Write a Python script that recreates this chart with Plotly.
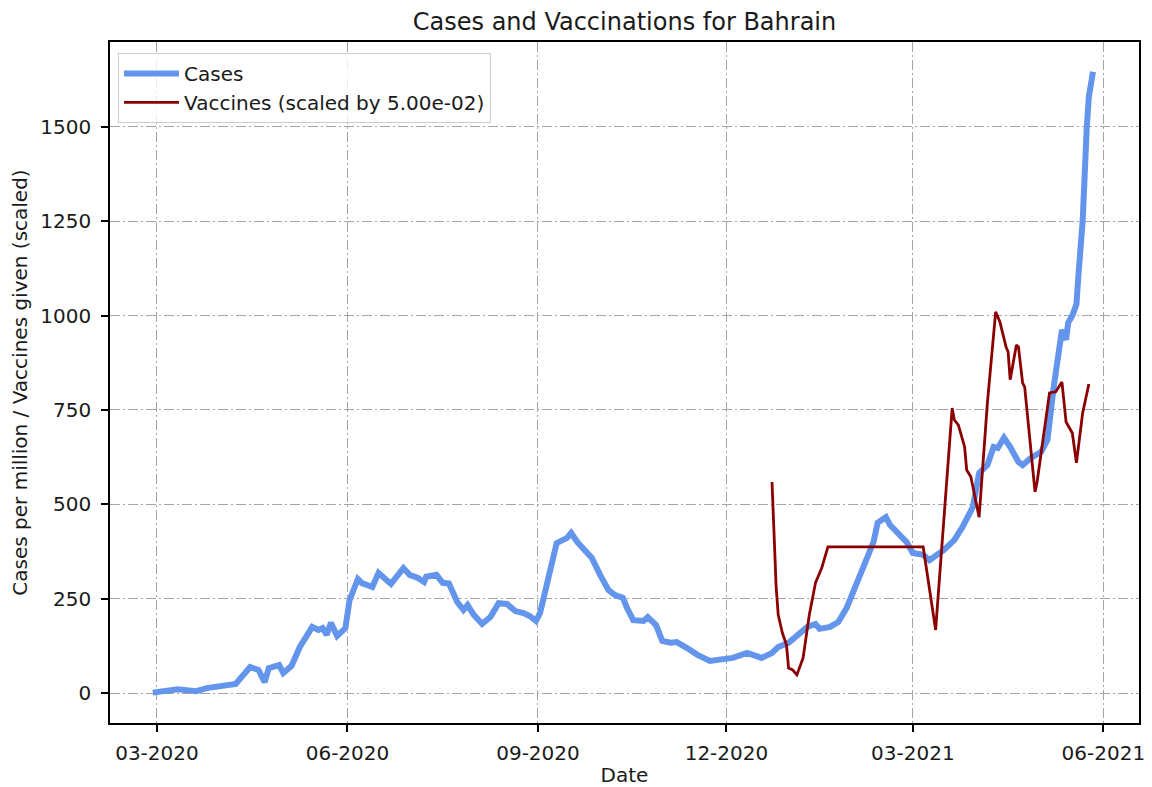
import plotly.graph_objects as go

# 7-day smoothed new cases per million
case_dates = [
    "2020-02-28", "2020-03-11", "2020-03-20", "2020-03-25", "2020-04-08", "2020-04-15",
    "2020-04-19", "2020-04-22", "2020-04-24", "2020-04-29", "2020-05-01", "2020-05-05",
    "2020-05-09", "2020-05-15", "2020-05-18", "2020-05-20", "2020-05-22", "2020-05-24",
    "2020-05-27", "2020-05-31", "2020-06-02", "2020-06-06", "2020-06-08", "2020-06-13",
    "2020-06-16", "2020-06-22", "2020-06-28", "2020-07-01", "2020-07-05", "2020-07-08",
    "2020-07-09", "2020-07-14", "2020-07-17", "2020-07-20", "2020-07-24", "2020-07-27",
    "2020-07-29", "2020-08-01", "2020-08-05", "2020-08-09", "2020-08-13", "2020-08-17",
    "2020-08-21", "2020-08-25", "2020-08-28", "2020-08-31", "2020-09-02", "2020-09-05",
    "2020-09-10", "2020-09-15", "2020-09-17", "2020-09-20", "2020-09-24", "2020-09-27",
    "2020-10-01", "2020-10-05", "2020-10-08", "2020-10-12", "2020-10-14", "2020-10-17",
    "2020-10-22", "2020-10-24", "2020-10-28", "2020-10-31", "2020-11-04", "2020-11-07",
    "2020-11-12", "2020-11-17", "2020-11-23", "2020-12-01", "2020-12-04", "2020-12-11",
    "2020-12-18", "2020-12-23", "2020-12-26", "2020-12-31", "2021-01-05", "2021-01-09",
    "2021-01-13", "2021-01-15", "2021-01-20", "2021-01-24", "2021-01-28", "2021-01-31",
    "2021-02-04", "2021-02-07", "2021-02-10", "2021-02-12", "2021-02-16", "2021-02-18",
    "2021-02-22", "2021-02-26", "2021-03-01", "2021-03-06", "2021-03-09", "2021-03-16",
    "2021-03-21", "2021-03-25", "2021-03-30", "2021-04-02", "2021-04-06", "2021-04-09",
    "2021-04-11", "2021-04-14", "2021-04-17", "2021-04-21", "2021-04-23", "2021-04-27",
    "2021-05-02", "2021-05-05", "2021-05-08", "2021-05-10", "2021-05-11", "2021-05-12",
    "2021-05-14", "2021-05-15", "2021-05-17", "2021-05-19", "2021-05-20", "2021-05-22",
    "2021-05-24", "2021-05-25", "2021-05-27",
]
case_values = [
    1, 10, 5, 13, 24, 69,
    61, 29, 66, 74, 53, 72,
    122, 175, 167, 172, 154, 186,
    151, 172, 246, 302, 291, 281,
    318, 289, 331, 313, 305, 294,
    308, 313, 292, 290, 241, 220,
    233, 207, 183, 201, 238, 236,
    217, 212, 204, 191, 212, 281,
    397, 411, 424, 400, 379, 358,
    313, 273, 260, 252, 225, 193,
    191, 201, 180, 138, 133, 135,
    119, 101, 85, 93, 93, 106,
    93, 106, 122, 133, 154, 175,
    183, 170, 175, 188, 225, 265,
    318, 352, 400, 451, 466, 445,
    424, 400, 371, 366, 352, 379,
    405, 440, 493, 583, 604, 652,
    649, 676, 652, 612, 604, 623,
    639, 671, 810, 875, 910, 962,
    936, 981, 1000, 1030, 1110, 1250,
    1500, 1580, 1646,
]

# daily vaccinations (raw), plotted scaled by vacc_scale
vacc_scale = 5.00e-02
vacc_dates = [
    "2020-12-23", "2020-12-25", "2020-12-26", "2020-12-28", "2020-12-30", "2020-12-31",
    "2021-01-02", "2021-01-04", "2021-01-07", "2021-01-10", "2021-01-13", "2021-01-16",
    "2021-01-19", "2021-03-06", "2021-03-12", "2021-03-20", "2021-03-21", "2021-03-23",
    "2021-03-26", "2021-03-27", "2021-03-29", "2021-04-02", "2021-04-06", "2021-04-10",
    "2021-04-12", "2021-04-15", "2021-04-16", "2021-04-17", "2021-04-20", "2021-04-21",
    "2021-04-23", "2021-04-24", "2021-04-29", "2021-04-30", "2021-05-06", "2021-05-09",
    "2021-05-12", "2021-05-14", "2021-05-17", "2021-05-19", "2021-05-22", "2021-05-25",
]
vacc_raw = [
    11180, 5620, 4140, 3180, 2540, 1320,
    1220, 960, 1860, 4140, 5840, 6620,
    7740, 7740, 3340, 15100, 14480, 14200,
    13040, 11820, 11460, 9320, 15380, 20200,
    19680, 18340, 18080, 16600, 18440, 18340,
    16440, 16220, 10660, 11180, 15900, 15960,
    16480, 14360, 13780, 12200, 14840, 16380,
]
vacc_values = [v * vacc_scale for v in vacc_raw]

font_family = "DejaVu Sans"
text_color = '#1a1a1a'

fig = go.Figure()

fig.add_trace(go.Scatter(
    x=case_dates,
    y=case_values,
    mode='lines',
    name='Cases',
    line=dict(color='#6495ED', width=6),
))

fig.add_trace(go.Scatter(
    x=vacc_dates,
    y=vacc_values,
    mode='lines',
    name='Vaccines (scaled by %.2e)' % vacc_scale,
    line=dict(color='#8B0000', width=2.8),
))

axis_style = dict(
    showline=True,
    linecolor='black',
    linewidth=1.5,
    mirror=True,
    ticks='outside',
    ticklen=7,
    tickwidth=1.5,
    tickcolor='black',
    showgrid=True,
    gridcolor='#a4a4a4',
    gridwidth=1.2,
    griddash='10px,3px,2px,3px',
    zeroline=False,
    automargin=False,
    tickfont=dict(family=font_family, size=20, color=text_color),
)

# page body has an 8px margin, so the figure is 8px smaller each way
fig.update_layout(
    width=1144,
    height=779,
    paper_bgcolor='white',
    plot_bgcolor='white',
    margin=dict(l=102, r=13, t=34, b=64),
    font=dict(family=font_family, color=text_color),
    title=dict(
        text='Cases and Vaccinations for Bahrain',
        x=0.5, xref='paper', xanchor='center',
        y=1 - 14 / 779, yref='container', yanchor='middle',
        font=dict(family=font_family, size=24, color=text_color),
    ),
    xaxis=dict(
        axis_style,
        type='date',
        range=['2020-02-07 08:00', '2021-06-18 05:00'],
        tick0='2020-03-01',
        dtick='M3',
        tickformat='%m-%Y',
        ticklabelstandoff=4,
        title=dict(text='Date', font=dict(family=font_family, size=20, color=text_color), standoff=5),
    ),
    yaxis=dict(
        axis_style,
        range=[-79.5, 1725],
        tick0=0,
        dtick=250,
        ticklabelstandoff=6,
        title=dict(text='Cases per million / Vaccines given (scaled)',
                   font=dict(family=font_family, size=20, color=text_color), standoff=10),
    ),
    showlegend=True,
    legend=dict(
        x=0.0078, y=0.984,
        xanchor='left', yanchor='top',
        bgcolor='rgba(255,255,255,0.8)',
        bordercolor='#cccccc',
        borderwidth=1,
        itemwidth=55,
        font=dict(family=font_family, size=20, color=text_color),
        tracegroupgap=0,
    ),
)

fig.write_html("out.html")
